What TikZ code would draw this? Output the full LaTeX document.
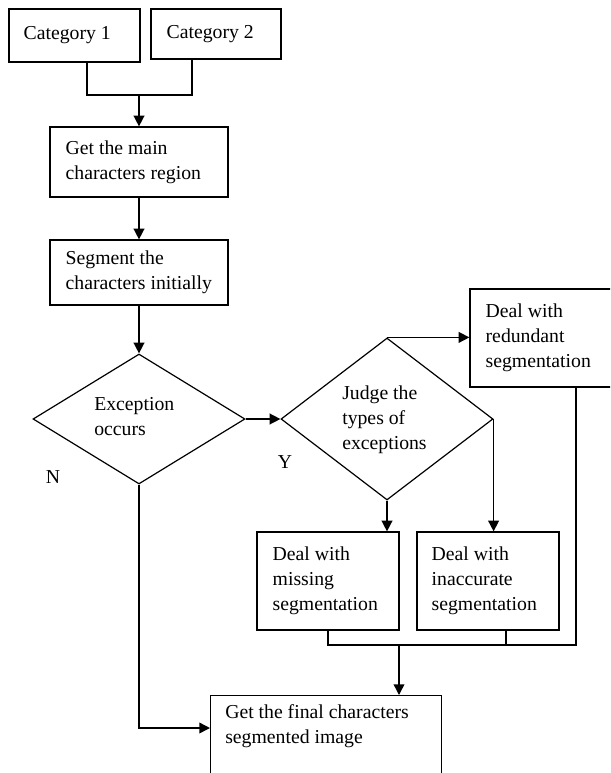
\documentclass[tikz,border=0pt]{standalone}
\usepackage{fontspec}
\setmainfont{Liberation Serif}
\usetikzlibrary{shapes.geometric,arrows.meta,calc}
\begin{document}
\begin{tikzpicture}[x=0.75pt,y=-0.75pt,
  txt/.style={font=\fontsize{14.8}{18.75}\selectfont,align=left,inner sep=0pt},
  box/.style={draw,line width=0.9pt,inner sep=0pt},
  dia/.style={draw,diamond,line width=0.9pt,inner sep=0pt},
  conn/.style={line width=1.1pt},
  arr/.style={line width=1.1pt,-{Triangle[length=8pt,width=8pt]}}]
\useasboundingbox (0,0) rectangle (610,773);
\clip (0,0) rectangle (610,773);
% boxes
\node[box,minimum width=98.25pt,minimum height=39.75pt] (cat1) at (74.5,35.5) {};
\node[txt,anchor=west] (cat1t) at ([xshift=11.25pt]cat1.west) {Category 1};
\node[box,minimum width=97.5pt,minimum height=37.5pt] (cat2) at (216,34) {};
\node[txt,anchor=west] (cat2t) at ([xshift=12pt]cat2.west) {Category 2};
\node[box,minimum width=133.5pt,minimum height=52.5pt] (main) at (139,162) {};
\node[txt,anchor=west] (maint) at ([xshift=12pt]main.west) {Get the main\\characters region};
\node[box,minimum width=133.5pt,minimum height=48.75pt] (seg) at (139,272.5) {};
\node[txt,anchor=west] (segt) at ([xshift=12pt]seg.west) {Segment the\\characters initially};
\node[dia,minimum width=159pt,minimum height=97.5pt] (exc) at (139,419) {};
\node[txt,anchor=west] (exct) at (94,417) {Exception\\occurs};
\node[dia,minimum width=159pt,minimum height=121.5pt] (judge) at (387,419) {};
\node[txt,anchor=west] (judget) at (342,420) {Judge the\\types of\\exceptions};
\node[box,minimum width=112.5pt,minimum height=73.5pt] (red) at (545,338) {};
\node[txt,anchor=west] (redt) at ([xshift=12pt]red.west) {Deal with\\redundant\\segmentation};
\node[box,minimum width=106.5pt,minimum height=73.5pt] (miss) at (328,581) {};
\node[txt,anchor=west] (misst) at ([xshift=12pt]miss.west) {Deal with\\missing\\segmentation};
\node[box,minimum width=106.5pt,minimum height=73.5pt] (inacc) at (488,581) {};
\node[txt,anchor=west] (inacct) at ([xshift=11.25pt]inacc.west) {Deal with\\inaccurate\\segmentation};
\node[box,minimum width=173.25pt,minimum height=78.75pt,anchor=north west] (final) at (210,695) {};
\node[txt,anchor=north west] (finalt) at (225,704) {Get the final characters\\segmented image};
% labels
\node[txt] (N) at (53,477) {N};
\node[txt] (Y) at (285,462) {Y};
% connectors
\coordinate (j1) at (87,95);
\coordinate (j2) at (192,95);
\draw[conn] (j1 |- cat1.south) -- (j1) -- (j2) -- (j2 |- cat2.south);
\draw[arr] (main.north |- j1) -- (main.north);
\draw[arr] (main.south) -- (seg.north);
\draw[arr] (seg.south) -- (exc.north);
\draw[arr] (exc.east) -- (judge.west);
\draw[arr] (judge.north) -- (judge.north -| red.west);
\draw[arr] (judge.south) -- (judge.south |- miss.north);
\draw[arr] (judge.east) -- (judge.east |- inacc.north);
\coordinate (k1) at (328,645);
\coordinate (k2) at (506,645);
\coordinate (k3) at (576,645);
\coordinate (k4) at (399,645);
\draw[conn] (k1 |- miss.south) -- (k1) -- (k3) -- (k3 |- red.south);
\draw[conn] (k2 |- inacc.south) -- (k2);
\draw[arr] (k4) -- (k4 |- final.north);
\coordinate (nturn) at (139,728);
\draw[arr] (exc.south) -- (nturn) -- (nturn -| final.west);
\end{tikzpicture}
\end{document}
